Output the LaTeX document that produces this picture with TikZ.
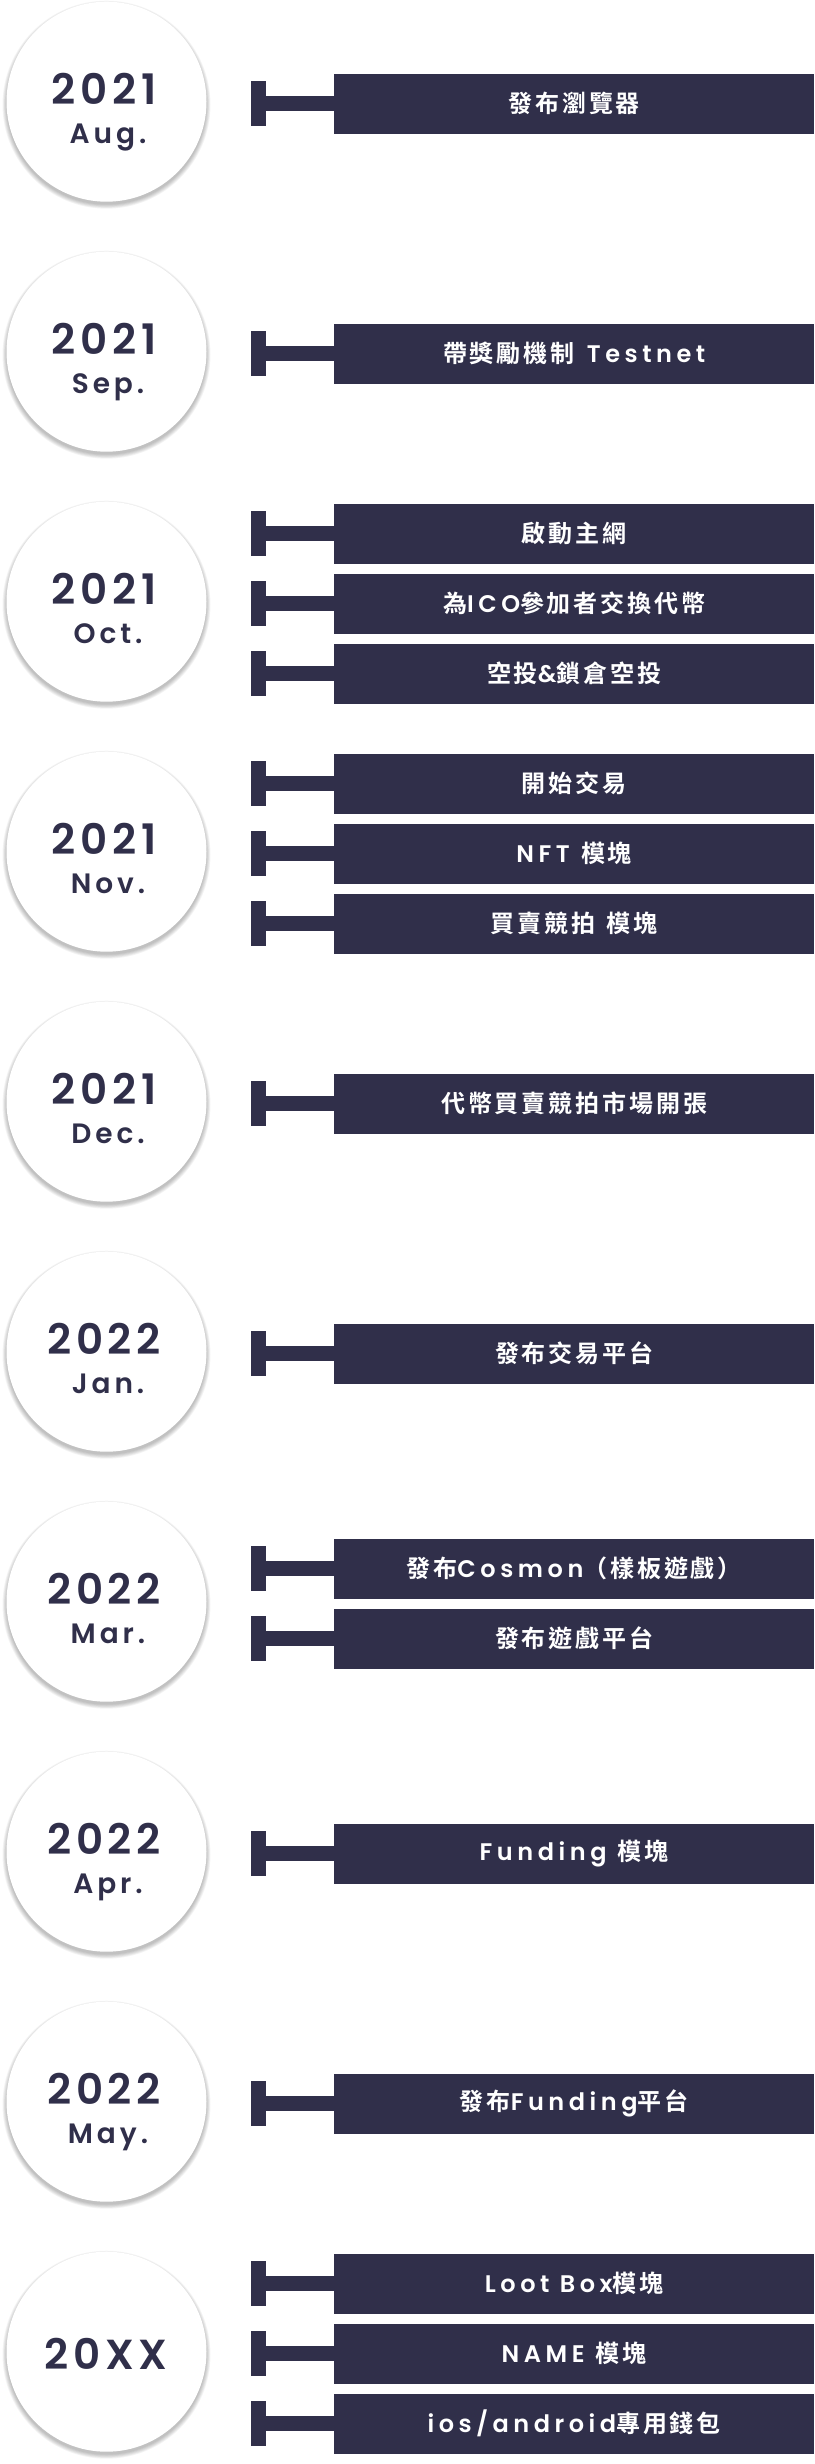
\documentclass[tikz,border=0pt]{standalone}
\usepackage{fontspec}
\newfontfamily\cjk{Noto Sans CJK TC Bold}[LetterSpace=12]
\newfontfamily\lat{Poppins}[UprightFont={* SemiBold},LetterSpace=19]
\newfontfamily\yearf{Poppins}[UprightFont={* SemiBold},LetterSpace=11]
\newfontfamily\monf{Poppins}[UprightFont={* SemiBold},LetterSpace=14]
\newcommand{\LT}[1]{{\lat #1}}
\definecolor{navy}{RGB}{48,47,74}
\tikzset{
  yearcirc/.style={circle, fill=white, minimum size=200pt, inner sep=0pt},
  yeartext/.style={anchor=base, text=navy, inner sep=0pt, font=\yearf\fontsize{42}{46}\selectfont},
  montext/.style={anchor=base, text=navy, inner sep=0pt, font=\monf\fontsize{28}{32}\selectfont},
  barbox/.style={anchor=west, fill=navy, text=white, minimum width=480pt, minimum height=60pt, inner sep=0pt, font=\cjk\fontsize{24}{28}\selectfont},
  tick/.style={fill=navy, minimum width=15pt, minimum height=45pt, inner sep=0pt},
  stem/.style={draw=navy, line width=15pt}
}
\newcommand{\shadowcirc}[2]{%
  \foreach \k in {0,1,2,3,4,5}{\fill[black, opacity=0.045] (#1,#2+3) circle ({100+0.8*\k});}}
\begin{document}
\begin{tikzpicture}[x=1pt,y=-1pt]
\fill[white] (0,0) rectangle (814,2464);
\useasboundingbox (0,0) rectangle (814,2464);
% block helper
\newcommand{\yearblock}[4]{% #1 name, #2 yc, #3 year, #4 month
  \shadowcirc{106.5}{#2-2}
  \node[yearcirc] (#1) at (106.5,#2-2) {};
  \node[yeartext] (#1y) at (104,#2+1) {#3};
  \node[montext] (#1m) at (108,#2+40) {#4};
}
\newcommand{\baritem}[3]{% #1 name, #2 y, #3 text
  \node[tick] (#1t) at (258,#2) {};
  \node[barbox] (#1b) at (334,#2) {#3};
  \draw[stem] (#1t.east) -- (#1b.west);
}
% 1
\yearblock{a}{103.7}{2021}{Aug.}
\baritem{a1}{103.7}{發布瀏覽器}
% 2
\yearblock{b}{353.7}{2021}{Sep.}
\baritem{b1}{353.7}{帶獎勵機制\hspace{4pt} \LT{Testnet}}
% 3
\yearblock{c}{603.7}{2021}{Oct.}
\baritem{c1}{533.7}{啟動主網}
\baritem{c2}{603.7}{為\LT{ICO}參加者交換代幣}
\baritem{c3}{673.7}{空投\LT{\&}鎖倉空投}
% 4
\yearblock{d}{853.7}{2021}{Nov.}
\baritem{d1}{783.7}{開始交易}
\baritem{d2}{853.7}{\LT{NFT}\hspace{3pt} 模塊}
\baritem{d3}{923.7}{買賣競拍\hspace{3pt} 模塊}
% 5
\yearblock{e}{1103.7}{2021}{Dec.}
\baritem{e1}{1103.7}{代幣買賣競拍市場開張}
% 6
\yearblock{f}{1353.7}{2022}{Jan.}
\baritem{f1}{1353.7}{發布交易平台}
% 7
\yearblock{g}{1603.7}{2022}{Mar.}
\baritem{g1}{1568.7}{發布\LT{Cosmon}（樣板遊戲）}
\baritem{g2}{1638.7}{發布遊戲平台}
% 8
\yearblock{h}{1853.7}{2022}{Apr.}
\baritem{h1}{1853.7}{\LT{Funding}\hspace{3pt} 模塊}
% 9
\yearblock{i}{2103.7}{2022}{May.}
\baritem{i1}{2103.7}{發布\LT{Funding}平台}
% 10
\shadowcirc{106.5}{2351.7}
\node[yearcirc] (j) at (106.5,2351.7) {};
\node[yeartext] (jy) at (106,2369) {20XX};
\baritem{j1}{2283.7}{\LT{Loot Box}模塊}
\baritem{j2}{2353.7}{\LT{NAME}\hspace{3pt} 模塊}
\baritem{j3}{2423.7}{\LT{ios/android}專用錢包}
\end{tikzpicture}
\end{document}
